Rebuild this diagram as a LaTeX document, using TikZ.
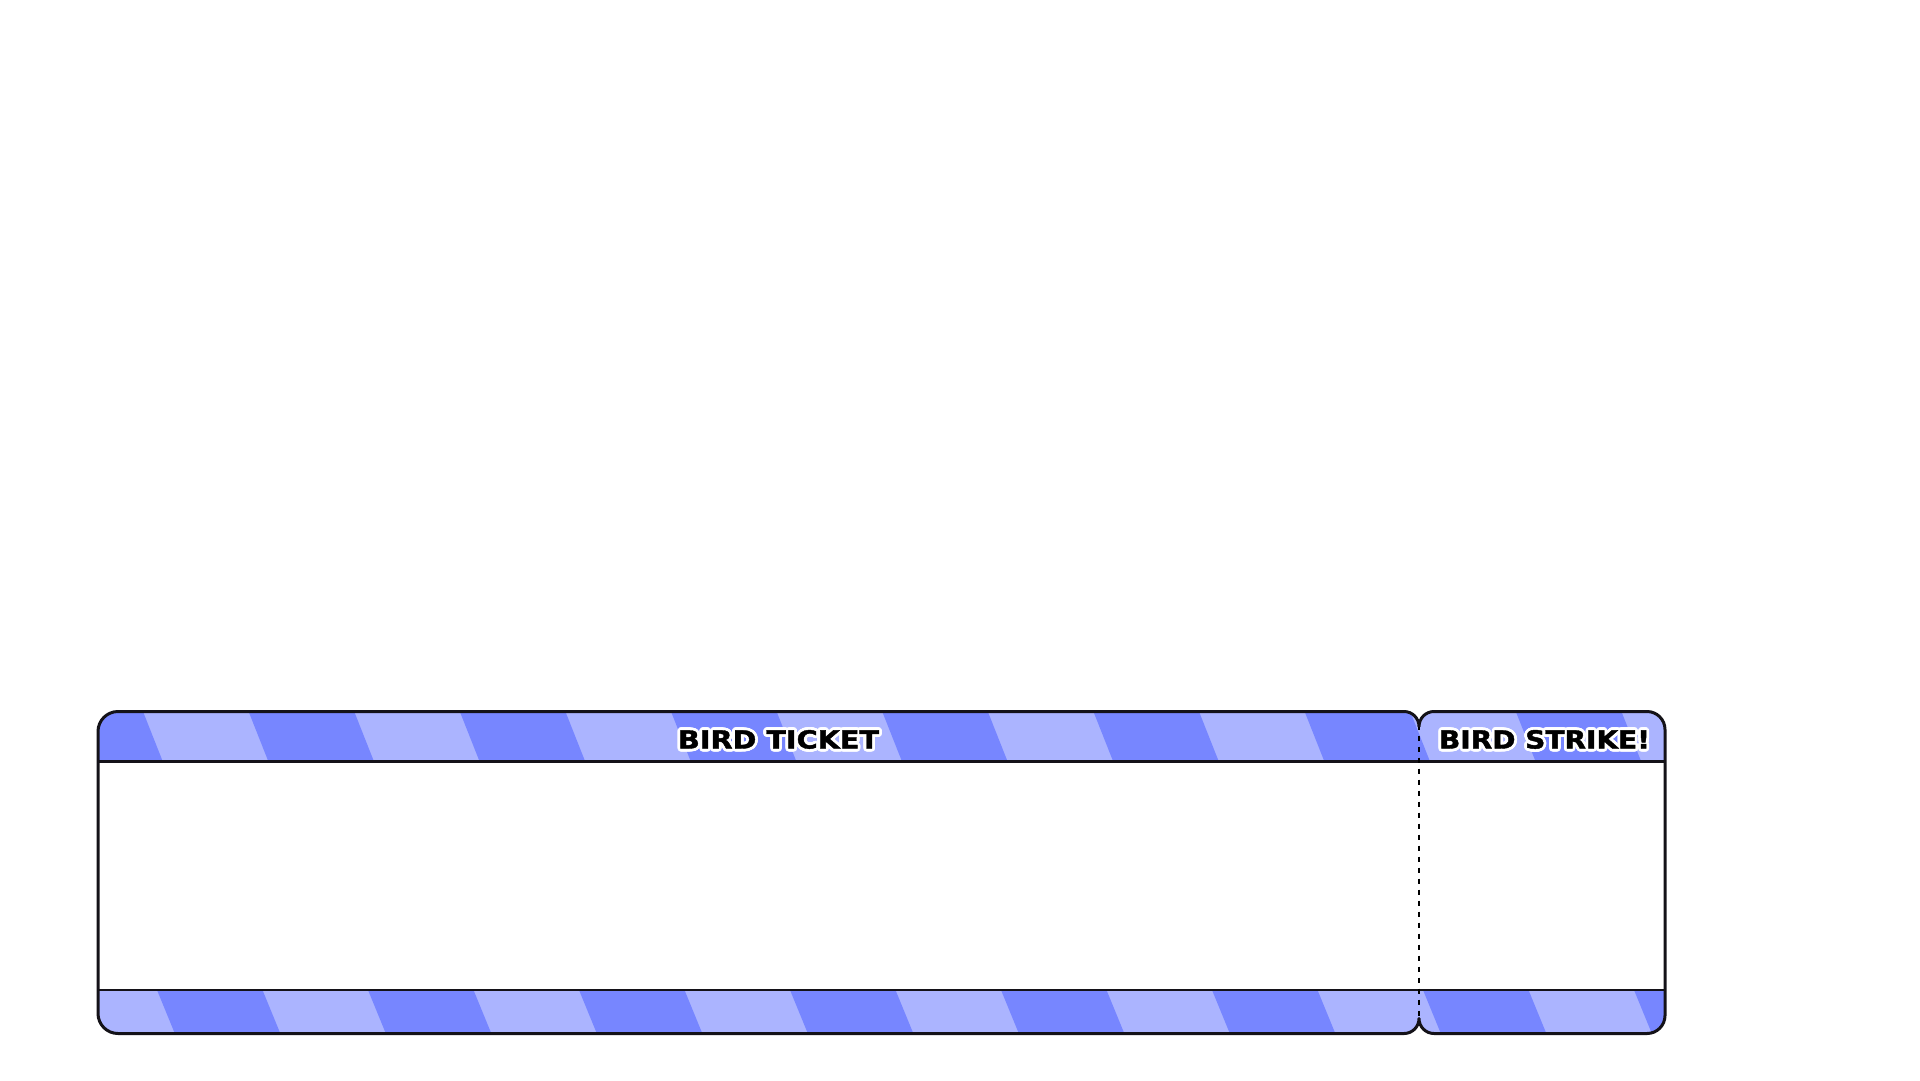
\documentclass[tikz,border=0pt]{standalone}
\usepackage{fontspec}
\setmainfont{DejaVu Sans}
\newfontfamily\titleface[FakeBold=1.5]{DejaVu Sans Bold}
\usetikzlibrary{calc}
\definecolor{stripedark}{RGB}{119,134,255}
\definecolor{stripelight}{RGB}{171,180,255}
\definecolor{inkline}{RGB}{20,18,24}
\newcommand{\tktlabel}[3]{\resizebox{#2pt}{#3pt}{\titleface #1}}
\tikzset{
  outline/.style={draw=inkline, line width=3pt, line join=round},
  divider/.style={draw=inkline, line width=2.3pt},
  perforation/.style={draw=black, line width=2.8pt, dash pattern=on 5pt off 6pt, dash phase=2pt},
  halo/.style={anchor=base, inner sep=0pt, text=white},
  title/.style={anchor=base, inner sep=0pt, text=black},
}
\begin{document}
\begin{tikzpicture}[x=1pt,y=-1pt]
\useasboundingbox (0,0) rectangle (1920,1080);
\def\ticketshape{(118,711.5) -- (1404,711.5) arc (-90:0:15) arc (180:270:15) -- (1647,711.5) arc (-90:0:18) -- (1665,1015.5) arc (0:90:18) -- (1434,1033.5) arc (90:180:15) arc (0:90:15) -- (118,1033.5) arc (90:180:20) -- (98,731.5) arc (180:270:20) -- cycle}
% white body
\fill[white] \ticketshape;
% striped bands
\begin{scope}
  \clip \ticketshape;
  \begin{scope}
    \clip (90,700) rectangle (1680,761.5);
    \fill[stripelight] (90,700) rectangle (1680,761.5);
    \foreach \m in {-1,...,7} {
      \pgfmathsetmacro\xa{143+105.6*(2*\m+1)}
      \fill[stripedark] (\xa-4.55,700) -- ++(105.6,0) -- ++(27.7,70) -- ++(-105.6,0) -- cycle;
    }
  \end{scope}
  \begin{scope}
    \clip (90,990) rectangle (1680,1045);
    \fill[stripelight] (90,990) rectangle (1680,1045);
    \foreach \m in {0,...,7} {
      \pgfmathsetmacro\xb{157+105.5*(2*\m)}
      \fill[stripedark] (\xb-4.1,980) -- ++(105.5,0) -- ++(26.65,65) -- ++(-105.5,0) -- cycle;
    }
  \end{scope}
\end{scope}
% band dividers
\coordinate (hl) at (98,761.5);
\coordinate (hr) at (1665,761.5);
\coordinate (bl) at (98,990);
\coordinate (br) at (1665,990);
\draw[divider] (hl) -- (hr);
\draw[divider] (bl) -- (br);
% outline
\draw[outline] \ticketshape;
% perforation
\coordinate (pt) at (1419,726.5);
\coordinate (pb) at (1419,1018.5);
\draw[perforation] (pt) -- (pb);
% titles with white halo
\coordinate (t1) at (778.5,748.5);
\coordinate (t2) at (1544.5,748.5);
\foreach \a in {0,20,...,340} {
  \node[halo] (ha\a) at ($(t1)+(\a:2.8)$) {\tktlabel{BIRD TICKET}{201}{18.5}};
  \node[halo] (hb\a) at ($(t2)+(\a:2.8)$) {\tktlabel{BIRD STRIKE!}{211}{18.5}};
}
\node[title] (title1) at (t1) {\tktlabel{BIRD TICKET}{201}{18.5}};
\node[title] (title2) at (t2) {\tktlabel{BIRD STRIKE!}{211}{18.5}};
\end{tikzpicture}
\end{document}
